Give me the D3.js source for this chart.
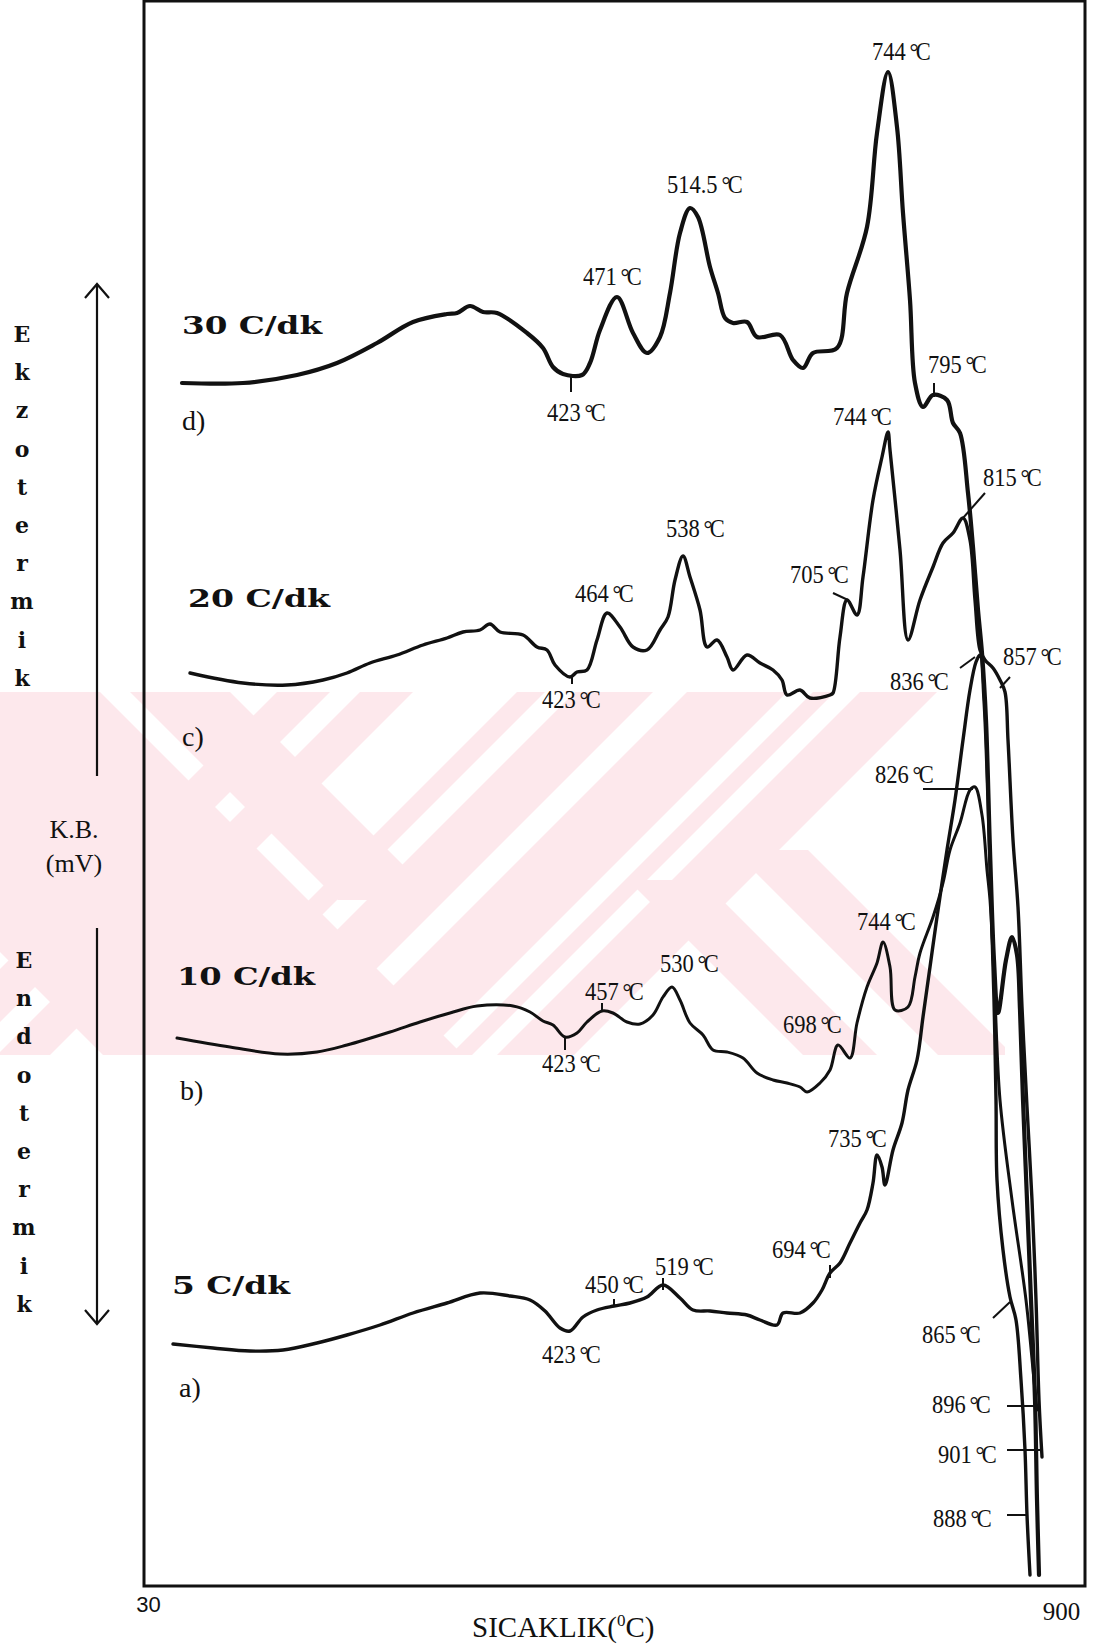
<!DOCTYPE html>
<html>
<head>
<meta charset="utf-8">
<script src="https://cdn.jsdelivr.net/npm/d3@7"></script>
<style>
  body { margin: 0; background: #fff; }
  svg { display: block; }
</style>
</head>
<body>
<svg id="chart" width="1096" height="1645"></svg>
<script>
// DTA curves at four heating rates: [temperature (°C), signal (relative units)]
const rateLabels = ["30 C/dk", "20 C/dk", "10 C/dk", "5 C/dk"];
const panelLetters = ["d)", "c)", "b)", "a)"];

const curve30 = [[37,1203],[98,1203],[152,1211],[192,1223],[232,1243],[268,1264],[302,1272],[312,1273],[325,1280],[338,1274],[352,1273],[382,1253],[398,1238],[408,1219],[418,1212],[437,1211],[445,1223],[455,1256],[472,1289],[488,1253],[502,1233],[515,1249],[525,1293],[535,1353],[545,1378],[553,1369],[565,1319],[573,1293],[580,1268],[588,1263],[602,1264],[612,1249],[635,1251],[648,1226],[658,1218],[668,1233],[692,1238],[702,1293],[722,1359],[732,1453],[743,1514],[752,1459],[758,1373],[765,1286],[770,1203],[778,1179],[788,1191],[802,1186],[808,1163],[815,1153],[823,1093],[828,1039],[833,976],[837,933],[841,866],[845,736],[849,626],[853,573],[861,626],[867,649],[872,631],[875,576],[878,486],[882,386],[886,286],[890,186],[892,86],[894,11]];

const curve20 = [[45,913],[98,903],[142,901],[178,906],[202,913],[225,923],[252,931],[278,941],[302,948],[318,954],[335,956],[345,962],[355,954],[378,951],[392,939],[402,936],[410,921],[425,909],[432,914],[442,916],[452,946],[462,973],[475,959],[488,939],[502,936],[515,956],[523,969],[530,1006],[538,1030],[545,1009],[555,976],[562,939],[572,946],[582,929],[588,916],[602,931],[615,923],[628,916],[637,906],[642,891],[655,896],[665,888],[685,891],[688,893],[695,949],[702,986],[712,971],[718,1009],[728,1086],[737,1129],[743,1154],[745,1136],[755,1036],[763,946],[775,986],[788,1019],[798,1043],[808,1053],[818,1068],[825,1046],[830,986],[835,936],[840,926],[848,918],[855,906],[860,894],[863,846],[868,746],[873,679],[877,579],[882,479],[887,386],[891,286],[894,186],[897,129]];

const curve10 = [[32,548],[85,539],[135,532],[172,534],[202,541],[245,554],[275,564],[305,573],[332,580],[368,580],[385,574],[398,565],[408,561],[420,549],[432,553],[442,564],[457,575],[468,573],[482,564],[495,562],[508,571],[518,589],[527,599],[535,586],[545,563],[558,551],[568,536],[582,534],[598,528],[612,513],[628,506],[642,503],[655,499],[662,494],[675,503],[685,516],[693,541],[705,528],[712,563],[722,599],[732,623],[738,644],[745,619],[750,576],[763,579],[770,609],[775,633],[788,669],[798,703],[805,736],[815,763],[825,796],[830,799],[837,771],[842,716],[845,686],[850,586],[855,486],[867,386],[881,286],[889,206],[892,176]];

const curve5 = [[28,242],[68,238],[105,235],[138,236],[172,243],[202,251],[235,261],[268,273],[302,283],[335,293],[365,290],[385,286],[400,275],[415,258],[425,255],[438,269],[452,276],[469,280],[485,283],[502,289],[518,301],[535,288],[548,276],[565,275],[582,273],[602,271],[615,266],[632,261],[638,273],[655,273],[668,283],[677,296],[685,313],[695,323],[705,343],[715,363],[722,376],[728,403],[732,431],[737,419],[740,401],[748,436],[757,463],[763,496],[772,526],[778,569],[785,619],[792,669],[802,736],[810,786],[818,846],[825,896],[831,924],[835,931],[839,886],[843,786],[846,686],[849,586],[851,486],[852,406],[858,336],[865,289],[871,266],[876,206],[880,136],[882,71],[885,11]];

const series = [curve30, curve20, curve10, curve5];

// Peak / end-point annotations: text anchor [T, signal], optional tick segment
const peakNotes = [
  { t: "744", at: [727,1526] },
  { t: "514.5", at: [522,1393] },
  { t: "471", at: [438,1301] },
  { t: "423", at: [402,1165], tick: [[426,1211],[426,1194]] },
  { t: "795", at: [783,1213], tick: [[789,1203],[789,1189]] },
  { t: "744", at: [688,1161] },
  { t: "538", at: [521,1049] },
  { t: "464", at: [430,984] },
  { t: "423", at: [397,878], tick: [[427,909],[427,902]] },
  { t: "705", at: [645,1003], tick: [[688,993],[703,986]] },
  { t: "815", at: [838,1100], tick: [[840,1093],[818,1068]] },
  { t: "836", at: [745,896], tick: [[815,918],[830,929]] },
  { t: "857", at: [858,921], tick: [[865,909],[855,898]] },
  { t: "826", at: [730,803], tick: [[778,797],[828,797]] },
  { t: "744", at: [712,656] },
  { t: "530", at: [515,614] },
  { t: "457", at: [440,586], tick: [[457,583],[457,576]] },
  { t: "423", at: [397,514], tick: [[420,549],[420,536]] },
  { t: "698", at: [638,553] },
  { t: "735", at: [683,439] },
  { t: "694", at: [627,328], tick: [[685,321],[685,308]] },
  { t: "519", at: [510,311], tick: [[518,308],[518,296]] },
  { t: "450", at: [440,293], tick: [[469,287],[469,279]] },
  { t: "423", at: [397,223] },
  { t: "865", at: [777,243], tick: [[848,268],[865,284]] },
  { t: "896", at: [787,173], tick: [[862,180],[892,180]] },
  { t: "901", at: [793,123], tick: [[862,136],[897,136]] },
  { t: "888", at: [788,59], tick: [[862,71],[882,71]] }
];

// Heating-rate captions and panel letters, anchored in data units
const rateAnchors = [[37,1252],[43,979],[32,601],[27,292]];
const letterAnchors = [[37,1156],[37,840],[35,486],[34,189]];

const axisTicks = [30, 900];
const xTitle = "SICAKLIK(";
const yTitle = ["K.B.", "(mV)"];
const exoWord = "Ekzotermik";
const endoWord = "Endotermik";

// ---------------------------------------------------------------
const svg = d3.select("#chart");
const W = 1096, H = 1645;
const frame = { left: 144, right: 1085, top: 1, bottom: 1586 };

const x = d3.scaleLinear().domain([30, 900]).range([175, 1045]);
const y = d3.scaleLinear().domain([0, 1584]).range([1586, 2]);
const xFrame = d3.scaleLinear().domain([30, 900]).range([frame.left, frame.right]);

svg.append("rect").attr("width", W).attr("height", H).attr("fill", "#fff");

// faint background emblem: diagonal pink strips inside a horizontal band
const band = { top: 692, bottom: 1055, left: 0, right: 1005 };
svg.append("clipPath").attr("id", "bandClip")
  .append("rect").attr("x", band.left).attr("y", band.top)
  .attr("width", band.right - band.left).attr("height", band.bottom - band.top);
const emblem = svg.append("g").attr("clip-path", "url(#bandClip)").attr("fill", "#fde8ec");
// strips: [direction (+1 down-right, -1 down-left), x-intercept range at band top, y-range]
const stripSpecs = [
  [1, -260, 100, band.top, band.bottom],
  [1, 130, 230, band.top, 900],
  [1, 440, 514, 880, band.bottom],
  [1, 575, 650, 850, band.bottom],
  [-1, 277, 330, band.top, band.bottom],
  [-1, 360, 413, band.top, band.bottom],
  [-1, 517, 545, band.top, band.bottom],
  [-1, 575, 653, band.top, band.bottom],
  [-1, 687, 787, band.top, band.bottom],
  [-1, 813, 835, band.top, band.bottom],
  [-1, 860, 937, band.top, band.bottom]
];
emblem.selectAll("path").data(stripSpecs).join("path")
  .attr("d", ([dir, a, b, y0, y1]) => {
    const s0 = dir * (y0 - band.top), s1 = dir * (y1 - band.top);
    return `M${a + s0},${y0}L${b + s0},${y0}L${b + s1},${y1}L${a + s1},${y1}Z`;
  });

// plot frame
svg.append("path")
  .attr("d", `M${frame.left},${frame.top}H${frame.right}V${frame.bottom}H${frame.left}Z`)
  .attr("fill", "none").attr("stroke", "#111").attr("stroke-width", 3);

// x axis end labels
const xAxis = d3.axisBottom(xFrame).tickValues(axisTicks).tickSize(0).tickFormat(d3.format("d"));
const gx = svg.append("g").attr("transform", `translate(0,${frame.bottom})`).call(xAxis);
gx.select(".domain").remove();
gx.selectAll("text")
  .attr("fill", "#111")
  .attr("dy", null)
  .attr("y", d => d === 30 ? 26 : 34)
  .attr("dx", d => d === 30 ? 4 : -24)
  .style("font-family", d => d === 30 ? "'Liberation Sans', Arial, sans-serif" : "'Liberation Serif', serif")
  .style("font-size", d => d === 30 ? "22px" : "25px");

// x title
const xt = svg.append("text")
  .attr("x", 472).attr("y", 1637)
  .style("font-family", "'Liberation Serif', serif").style("font-size", "29px").attr("fill", "#111");
xt.append("tspan").text(xTitle);
xt.append("tspan").text("0").attr("dy", -11).style("font-size", "17px");
xt.append("tspan").text("C)").attr("dy", 11);

// y title and direction arrows
svg.selectAll("text.ytitle").data(yTitle).join("text")
  .attr("class", "ytitle")
  .attr("x", 74).attr("y", (d, i) => 838 + i * 34)
  .attr("text-anchor", "middle")
  .style("font-family", "'Liberation Serif', serif").style("font-size", "26px").attr("fill", "#111")
  .text(d => d);

const arrowG = svg.append("g").attr("stroke", "#111").attr("fill", "none").attr("stroke-width", 2.2);
arrowG.append("path").attr("d", "M97,776V285M85,298L97,284L109,298");
arrowG.append("path").attr("d", "M97,928V1324M85,1310L97,1324L109,1310");

svg.selectAll("text.exo").data(exoWord.split("")).join("text")
  .attr("class", "exo").attr("x", 22).attr("y", (d, i) => 342 + i * 38.2)
  .attr("text-anchor", "middle")
  .style("font-family", "'DejaVu Serif', serif").style("font-weight", "bold").style("font-size", "22px").attr("fill", "#111")
  .text(d => d);
svg.selectAll("text.endo").data(endoWord.split("")).join("text")
  .attr("class", "endo").attr("x", 24).attr("y", (d, i) => 968 + i * 38.2)
  .attr("text-anchor", "middle")
  .style("font-family", "'DejaVu Serif', serif").style("font-weight", "bold").style("font-size", "22px").attr("fill", "#111")
  .text(d => d);

// heating-rate captions
svg.selectAll("text.rate").data(rateLabels).join("text")
  .attr("class", "rate")
  .attr("x", (d, i) => x(rateAnchors[i][0])).attr("y", (d, i) => y(rateAnchors[i][1]))
  .attr("textLength", (d, i) => [140, 142, 138, 118][i]).attr("lengthAdjust", "spacingAndGlyphs")
  .style("font-family", "'DejaVu Serif', serif").style("font-weight", "bold").style("font-size", "24px")
  .attr("fill", "#111").text(d => d);

svg.selectAll("text.letter").data(panelLetters).join("text")
  .attr("class", "letter")
  .attr("x", (d, i) => x(letterAnchors[i][0])).attr("y", (d, i) => y(letterAnchors[i][1]))
  .style("font-family", "'Liberation Serif', serif").style("font-size", "28px").attr("fill", "#111")
  .text(d => d);

// curves
const line = d3.line().x(d => x(d[0])).y(d => y(d[1])).curve(d3.curveCatmullRom.alpha(0.5));
const widths = [4.2, 3.4, 3, 3.4];
svg.selectAll("path.curve").data(series).join("path")
  .attr("class", "curve")
  .attr("d", line)
  .attr("fill", "none").attr("stroke", "#111")
  .attr("stroke-width", (d, i) => widths[i])
  .attr("stroke-linejoin", "round").attr("stroke-linecap", "round");

// annotation ticks
svg.selectAll("line.tick").data(peakNotes.filter(n => n.tick)).join("line")
  .attr("class", "tick")
  .attr("x1", d => x(d.tick[0][0])).attr("y1", d => y(d.tick[0][1]))
  .attr("x2", d => x(d.tick[1][0])).attr("y2", d => y(d.tick[1][1]))
  .attr("stroke", "#111").attr("stroke-width", 2);

// annotation labels
const notes = svg.selectAll("g.note").data(peakNotes).join("g")
  .attr("class", "note")
  .attr("transform", d => `translate(${x(d.at[0])},${y(d.at[1])}) scale(0.9,1)`);
const nt = notes.append("text")
  .style("font-family", "'Liberation Serif', 'Times New Roman', serif").style("font-size", "25px")
  .attr("fill", "#111");
nt.append("tspan").text(d => d.t + " ");
nt.append("tspan").text("°").attr("dx", -2);
nt.append("tspan").text("C").attr("dx", -3);
</script>
</body>
</html>
